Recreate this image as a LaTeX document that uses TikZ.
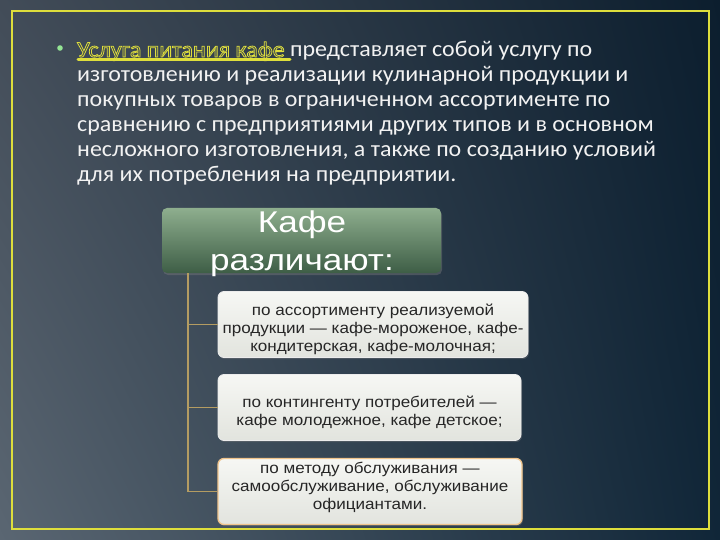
\documentclass[tikz,border=0pt]{standalone}
\usepackage{fontspec}
\setmainfont[FakeStretch=1.065]{Carlito}
\newfontfamily\arialf[FakeStretch=1.1]{Liberation Sans}
\newfontfamily\arialwide[FakeStretch=1.17]{Liberation Sans}
\usetikzlibrary{shadows,shadings}
\definecolor{frameY}{RGB}{222,222,60}
\definecolor{lineC}{RGB}{180,156,98}
\definecolor{boxTop}{RGB}{246,247,244}
\definecolor{boxBot}{RGB}{226,228,222}
\definecolor{greenTop}{RGB}{142,174,142}
\definecolor{greenBot}{RGB}{62,94,70}
\definecolor{hollow}{RGB}{60,70,80}
\definecolor{bgUL}{RGB}{66,76,88}
\definecolor{bgLL}{RGB}{90,102,114}
\definecolor{bgUR}{RGB}{12,30,46}
\definecolor{bgLR}{RGB}{16,38,56}
\definecolor{box3line}{RGB}{240,196,140}
\tikzset{
  itembox/.style={draw=white!85!gray, line width=0.8pt, rounded corners=6pt, top color=boxTop, bottom color=boxBot,
    minimum height=66pt, inner sep=0pt, drop shadow={opacity=0.35, shadow xshift=1pt, shadow yshift=-1.5pt}},
  itemtxt/.style={font=\arialf\fontsize{15.5}{18}\selectfont, text=black!85, align=center},
  conn/.style={draw=lineC, line width=1.2pt},
  bodytxt/.style={font=\fontsize{22.5}{25}\selectfont, text=white!90!gray, anchor=base west, inner sep=0pt},
}
\newcommand{\hollowtext}[1]{%
  {\color{hollow}\special{pdf:literal direct 2 Tr 0.8 w 0.87 0.87 0.24 RG}#1\special{pdf:literal direct 0 Tr}}}
\begin{document}
\begin{tikzpicture}[x=1pt,y=-1pt]
  % background
  \shade[upper left=bgUL, lower left=bgLL, upper right=bgUR, lower right=bgLR]
    (0,0) rectangle (720,540);
  \useasboundingbox (0,0) rectangle (720,540);
  % frame
  \draw[frameY, line width=1.8pt] (12,11) rectangle (709,529);

  % bullet
  \fill[green!40!white!80!gray] (60,48) circle (2.8pt);
  \node (l1) [bodytxt] at (77,57) {\hollowtext{Услуга питания кафе}\ представляет собой услугу по};
  \draw[frameY, line width=3pt, line cap=round] (78,60) -- (290,60);
  \node (l2) [bodytxt] at (77,82) {изготовлению и реализации кулинарной продукции и};
  \node (l3) [bodytxt] at (77,107) {покупных товаров в ограниченном ассортименте по};
  \node (l4) [bodytxt] at (77,132) {сравнению с предприятиями других типов и в основном};
  \node (l5) [bodytxt] at (77,157) {несложного изготовления, а также по созданию условий};
  \node (l6) [bodytxt] at (77,182) {для их потребления на предприятии.};

  % header box
  \node (head) [draw=none, rounded corners=5pt, top color=greenTop, bottom color=greenBot,
    minimum width=279pt, minimum height=65pt, inner sep=0pt,
    drop shadow={opacity=0.4, shadow xshift=1pt, shadow yshift=-2pt}] at (301.5,240.5) {};
  \node (headtxt) [font=\arialwide\fontsize{30}{38}\selectfont, text=white, align=center, inner sep=0pt, anchor=base]
    at (302,270) {Кафе\\различают:};

  % item boxes
  \node (b1) [itembox, minimum width=310pt] at (373,324.5) {};
  \node [itemtxt] at ([yshift=-5pt]b1.center) {по ассортименту реализуемой\\продукции — кафе-мороженое, кафе-\\кондитерская, кафе-молочная;};
  \node (b2) [itembox, minimum width=303pt] at (369.5,407.5) {};
  \node [itemtxt] at ([yshift=-5pt]b2.center) {по контингенту потребителей —\\кафе молодежное, кафе детское;};
  \node (b3) [itembox, draw=box3line, line width=1.3pt, minimum width=304pt] at (370,491.5) {};
  \node [itemtxt] at ([yshift=4pt]b3.center) {по методу обслуживания —\\самообслуживание, обслуживание\\официантами.};

  % connectors
  \coordinate (top) at (head.south -| 188,0);
  \draw[conn] (top) |- (b1.west);
  \draw[conn] (top) |- (b2.west);
  \draw[conn] (top) |- (b3.west);
\end{tikzpicture}
\end{document}
